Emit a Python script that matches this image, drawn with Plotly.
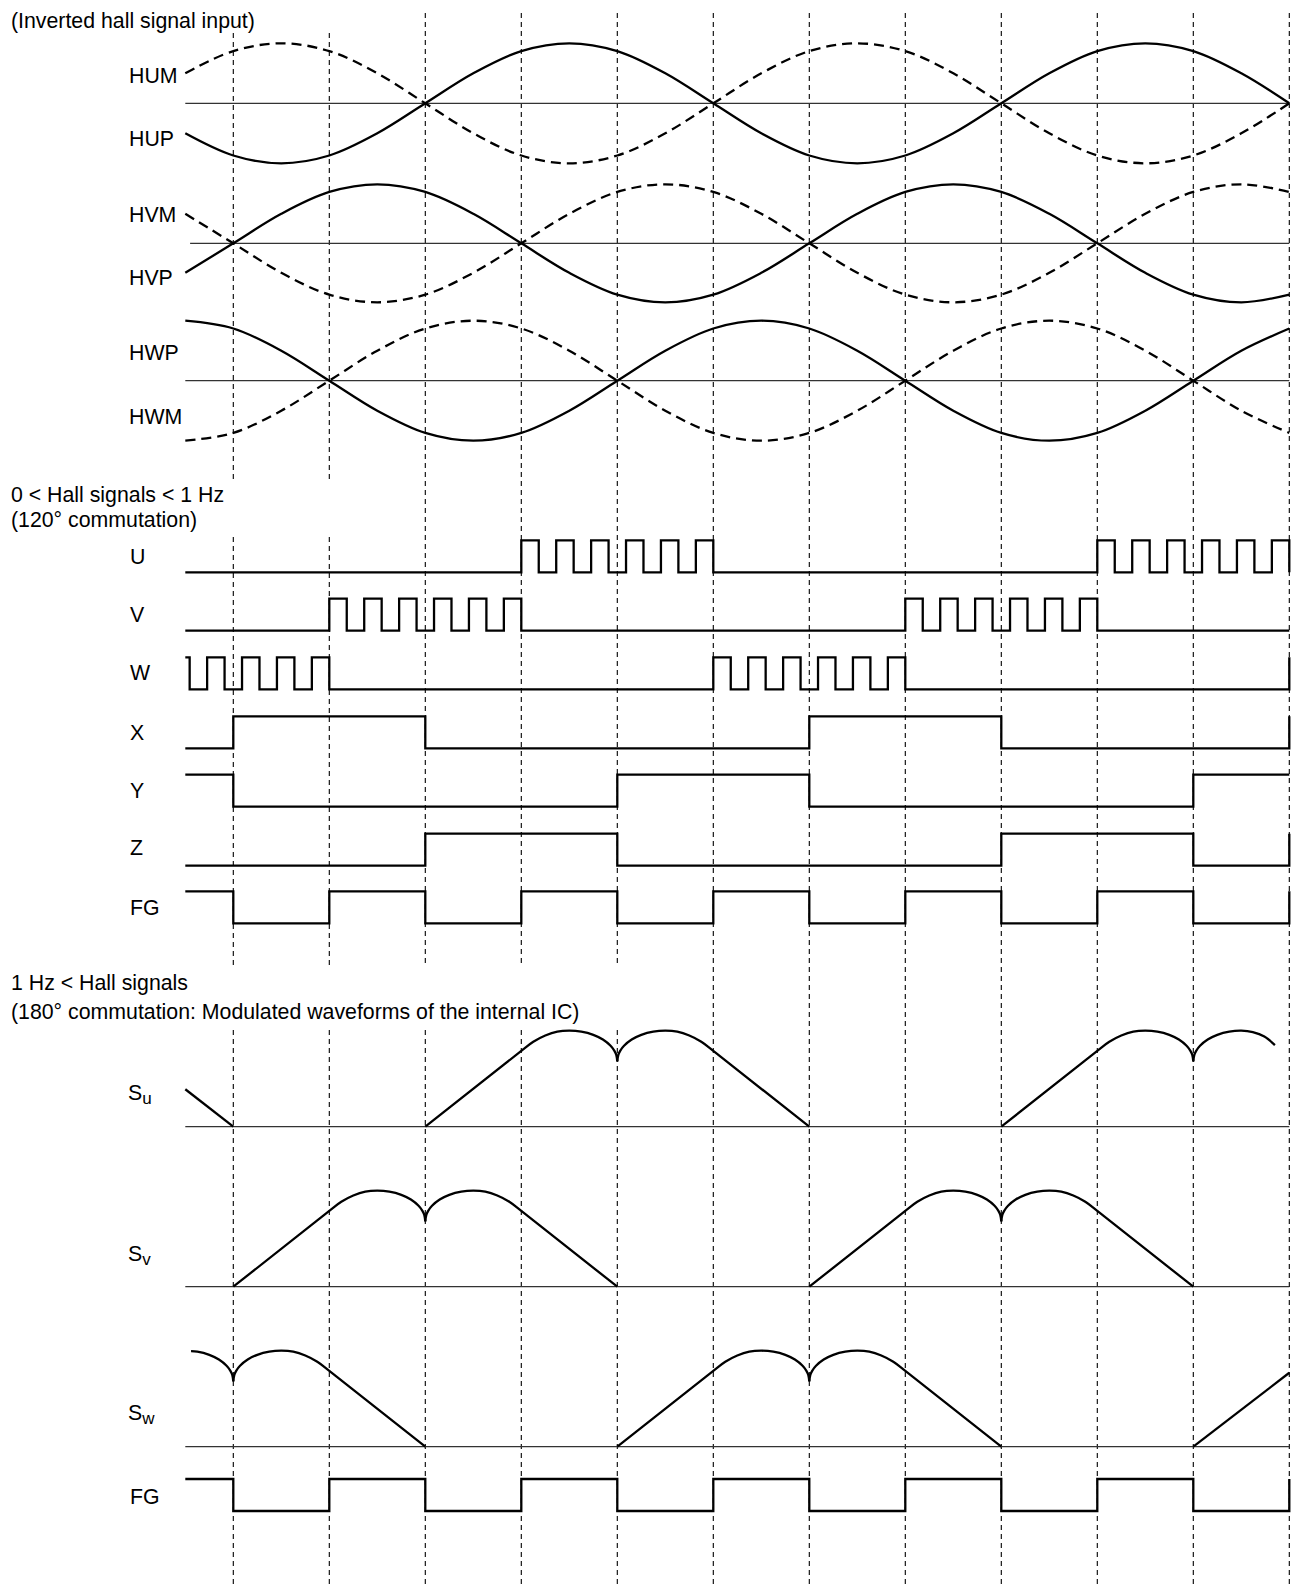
import plotly.graph_objects as go

# ---------------- geometry of the sheet ----------------
FIG_W, FIG_H = 1295, 1584
T0_PX, STEP_PX = 233.3, 96.0          # pixel of t=0 and pixels per 60 deg step
T_LO, T_HI = -0.5, 11.0               # drawn time span (in 60 deg steps)

# ---------------- hall signals (sampled every 30 deg) ----------------
HALL_T = [-0.5, 0, 0.5, 1, 1.5, 2, 2.5, 3, 3.5, 4, 4.5, 5, 5.5, 6, 6.5, 7, 7.5,
          8, 8.5, 9, 9.5, 10, 10.5, 11]
HUP = [-0.5, -0.87, -1, -0.87, -0.5, 0, 0.5, 0.87, 1, 0.87, 0.5, 0, -0.5, -0.87,
       -1, -0.87, -0.5, 0, 0.5, 0.87, 1, 0.87, 0.5, 0]
HUM = [0.5, 0.87, 1, 0.87, 0.5, 0, -0.5, -0.87, -1, -0.87, -0.5, 0, 0.5, 0.87,
       1, 0.87, 0.5, 0, -0.5, -0.87, -1, -0.87, -0.5, 0]
HVP = [-0.5, 0, 0.5, 0.87, 1, 0.87, 0.5, 0, -0.5, -0.87, -1, -0.87, -0.5, 0,
       0.5, 0.87, 1, 0.87, 0.5, 0, -0.5, -0.87, -1, -0.87]
HVM = [0.5, 0, -0.5, -0.87, -1, -0.87, -0.5, 0, 0.5, 0.87, 1, 0.87, 0.5, 0,
       -0.5, -0.87, -1, -0.87, -0.5, 0, 0.5, 0.87, 1, 0.87]
HWP = [1, 0.87, 0.5, 0, -0.5, -0.87, -1, -0.87, -0.5, 0, 0.5, 0.87, 1, 0.87,
       0.5, 0, -0.5, -0.87, -1, -0.87, -0.5, 0, 0.5, 0.87]
HWM = [-1, -0.87, -0.5, 0, 0.5, 0.87, 1, 0.87, 0.5, 0, -0.5, -0.87, -1, -0.87,
       -0.5, 0, 0.5, 0.87, 1, 0.87, 0.5, 0, -0.5, -0.87]

# ---------------- 120 deg commutation logic ----------------
# segment start times and states: L = low, H = high, P = PWM chopped burst
PWM_PULSES = 6
U_T, U_S, U_END = [-0.5, 3, 5, 9], ["L", "P", "L", "P"], 0
V_T, V_S, V_END = [-0.5, 1, 3, 7, 9], ["L", "P", "L", "P", "L"], 0
W_T, W_S, W_END = [-1, 1, 5, 7], ["P", "L", "P", "L"], 1
X_T, X_S, X_END = [-0.5, 0, 2, 6, 8], ["L", "H", "L", "H", "L"], 1
Y_T, Y_S, Y_END = [-0.5, 0, 4, 6, 10], ["H", "L", "H", "L", "H"], 1
Z_T, Z_S, Z_END = [-0.5, 2, 4, 8, 10], ["L", "H", "L", "H", "L"], 1
FG_T = [-0.5, 0, 1, 2, 3, 4, 5, 6, 7, 8, 9, 10]
FG_S = ["H", "L", "H", "L", "H", "L", "H", "L", "H", "L", "H", "L"]
FG_END = 1

# ---------------- 180 deg modulated waveforms ----------------
HUMP_S = [0, 0.125, 0.25, 0.375, 0.5, 0.625, 0.75, 0.85, 0.93, 0.97, 0.99, 1.0]
HUMP_V = [0.79, 0.885, 0.95, 0.99, 1.0, 0.99, 0.957, 0.908, 0.843, 0.79, 0.745, 0.68]
SU_RISE, SU_FALL = [2, 8], [4]
SU_HEAD = [(-0.5, 0.39), (0.0, 0.0)]
SU_TAIL_FALL = 10
SU_TAIL_END = [(10.62, 0.985), (10.74, 0.94), (10.85, 0.85)]
SV_RISE, SV_FALL = [0, 6], [2, 8]
SW_RISE, SW_FALL = [4], [0, 6]
SW_HEAD_START = (-0.44, 0.995)
SW_TAIL = [(10.0, 0.0), (11.0, 0.77)]

LABEL_FONT = dict(family="Liberation Sans, Arial, sans-serif", size=21.3, color="black")

fig = go.Figure()
axes = {}
n_axes = [0]


def new_axis(zero_px, unit_px, top_px, bot_px):
    n_axes[0] += 1
    k = n_axes[0]
    name = "yaxis" if k == 1 else f"yaxis{k}"
    ref = "y" if k == 1 else f"y{k}"
    axes[name] = dict(
        domain=[1 - bot_px / FIG_H, 1 - top_px / FIG_H],
        range=[(zero_px - bot_px) / unit_px, (zero_px - top_px) / unit_px],
        visible=False, fixedrange=True, anchor="x",
    )
    return ref


def line(ref, x, y, width=2.3, dash=None, shape="linear", color="black"):
    fig.add_trace(go.Scatter(
        x=x, y=y, yaxis=ref, xaxis="x", mode="lines", hoverinfo="skip",
        line=dict(color=color, width=width, dash=dash, shape=shape, smoothing=1.0),
        connectgaps=False, showlegend=False))


def label(text, x_px, y_px, **kw):
    fig.add_annotation(text=text, x=x_px / FIG_W, y=1 - y_px / FIG_H,
                       xref="paper", yref="paper", xanchor="left", yanchor="middle",
                       showarrow=False, font=LABEL_FONT, **kw)


# ---- Hall section ----
hall_rows = [
    (103.3, 60, 35, 170, HUM, HUP, "HUM", "HUP", 76, 139, -0.5),
    (243.3, 59, 175, 310, HVM, HVP, "HVM", "HVP", 215, 278, -0.45),
    (380.7, 60, 312, 450, HWM, HWP, "HWP", "HWM", 353, 417, -0.5),
]
for zero, unit, top, bot, dashed, solid, lab1, lab2, ly1, ly2, axis_start in hall_rows:
    ref = new_axis(zero, unit, top, bot)
    line(ref, [axis_start, T_HI], [0, 0], width=1.2, color="#333")
    line(ref, HALL_T, dashed, width=2.3, dash="10px,6px", shape="spline")
    line(ref, HALL_T, solid, width=2.3, shape="spline")
    label(lab1, 127, ly1)
    label(lab2, 127, ly2)

label("(Inverted hall signal input)", 9, 21)


# ---- logic section ----
def logic_xy(starts, states, end_level):
    pts = []
    bounds = starts[1:] + [T_HI]
    for a, b, s in zip(starts, bounds, states):
        if s == "P":
            n = 2 * PWM_PULSES - 1
            h = (b - a) / n
            for k in range(n):
                pts.append((a + k * h, 1 if k % 2 == 0 else 0))
        else:
            pts.append((a, 1 if s == "H" else 0))
    before = [p for p in pts if p[0] <= T_LO]
    level0 = before[-1][1] if before else pts[0][1]
    pts = [(T_LO, level0)] + [p for p in pts if p[0] > T_LO]
    pts.append((T_HI, end_level))
    return [p[0] for p in pts], [p[1] for p in pts]


logic_rows = [
    ("U", U_T, U_S, U_END, 572.3, 556.7),
    ("V", V_T, V_S, V_END, 630.7, 615),
    ("W", W_T, W_S, W_END, 689.3, 673),
    ("X", X_T, X_S, X_END, 748.3, 733),
    ("Y", Y_T, Y_S, Y_END, 806.7, 791),
    ("Z", Z_T, Z_S, Z_END, 865.7, 848),
    ("FG", FG_T, FG_S, FG_END, 923.3, 908),
]
for name, ts, ss, end, low_px, lab_y in logic_rows:
    ref = new_axis(low_px, 32, low_px - 45, low_px + 10)
    x, y = logic_xy(ts, ss, end)
    line(ref, x, y, width=2.3, shape="hv")
    label(name, 128, lab_y)

label("0 &lt; Hall signals &lt; 1 Hz", 9, 495)
label("(120° commutation)", 9, 520)


# ---- modulated section ----
def rise(a):
    return [(a, 0.0)] + [(a + 1 + s, v) for s, v in zip(HUMP_S, HUMP_V)]


def fall(a):
    return [(a + 1 - s, v) for s, v in reversed(list(zip(HUMP_S, HUMP_V)))] + [(a + 2, 0.0)]


def pieces_xy(pieces):
    xs, ys = [], []
    for pc in pieces:
        if xs:
            xs.append(None)
            ys.append(None)
        xs += [p[0] for p in pc]
        ys += [p[1] for p in pc]
    return xs, ys


su_tail = [p for p in fall(SU_TAIL_FALL) if p[0] <= 10.5] + SU_TAIL_END
SU_PIECES = [SU_HEAD] + [rise(a) for a in SU_RISE] + [fall(a) for a in SU_FALL] + [su_tail]
SV_PIECES = [rise(a) for a in SV_RISE] + [fall(a) for a in SV_FALL]
sw_head = [SW_HEAD_START] + [(-1 + s, v) for s, v in zip(HUMP_S, HUMP_V) if s > 0.6]
SW_PIECES = [sw_head] + [rise(a) for a in SW_RISE] + [fall(a) for a in SW_FALL] + [SW_TAIL]

SUB = "<sub><span style='font-size:17px'>{}</span></sub>"
s_rows = [
    ("S" + SUB.format("u"), SU_PIECES, 1126.7, 1094),
    ("S" + SUB.format("v"), SV_PIECES, 1286.7, 1255),
    ("S" + SUB.format("w"), SW_PIECES, 1446.7, 1414),
]
for name, pieces, zero_px, lab_y in s_rows:
    ref = new_axis(zero_px, 96, zero_px - 110, zero_px + 8)
    line(ref, [T_LO, T_HI], [0, 0], width=1.2, color="#333")
    x, y = pieces_xy(pieces)
    line(ref, x, y, width=2.3, shape="spline")
    label(name, 126, lab_y)

ref = new_axis(1511, 32, 1465, 1522)
x, y = logic_xy(FG_T, FG_S, FG_END)
line(ref, x, y, width=2.3, shape="hv")
label("FG", 128, 1497)

label("1 Hz &lt; Hall signals", 9, 983)
label("(180° commutation: Modulated waveforms of the internal IC)", 9, 1012)

# ---- dashed timing lines (every 60 deg) ----
GRID_T = [0, 1, 2, 3, 4, 5, 6, 7, 8, 9, 10, 11]
for t in GRID_T:
    top = 33 if t < 2 else 13
    gaps = []
    if t < 2:
        gaps.append((483, 537))
    if t < 5:
        gaps.append((967, 1030))
    segs, cur = [], top
    for g0, g1 in gaps:
        segs.append((cur, g0))
        cur = g1
    segs.append((cur, FIG_H))
    for y0, y1 in segs:
        fig.add_shape(type="line", xref="x", yref="paper", x0=t, x1=t,
                      y0=1 - y0 / FIG_H, y1=1 - y1 / FIG_H, layer="below",
                      line=dict(color="black", width=1.1, dash="5px,4px"))

fig.update_layout(
    width=FIG_W, height=FIG_H,
    margin=dict(l=0, r=0, t=0, b=0),
    paper_bgcolor="white", plot_bgcolor="white",
    showlegend=False,
    xaxis=dict(range=[-T0_PX / STEP_PX, (FIG_W - T0_PX) / STEP_PX], visible=False,
               fixedrange=True, domain=[0, 1], anchor="y"),
    **axes,
)

fig.write_html("out.html", post_script="document.body.style.margin='0';",
               config={"displayModeBar": False})
